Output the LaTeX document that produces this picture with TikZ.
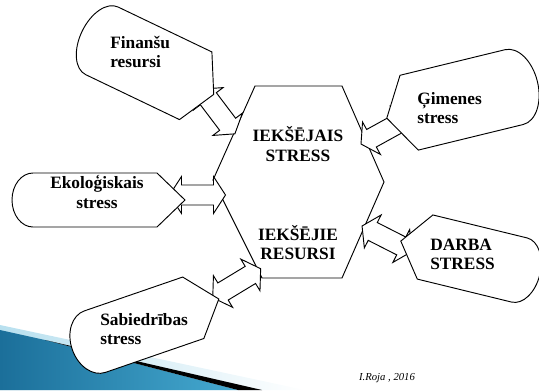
\documentclass[tikz,border=0pt]{standalone}
\usepackage{fontspec}
\setmainfont{Liberation Serif}
\usetikzlibrary{calc}
\definecolor{swooshdark}{HTML}{1B6F9A}
\definecolor{swooshmid}{HTML}{45A9D0}
\definecolor{swooshlight}{HTML}{B8E0EF}
\tikzset{
  callout/.style={draw=black, fill=white, line width=0.7pt},
  arr/.style={draw=black, fill=white, line width=0.7pt},
  hexa/.style={draw=black, fill=white, line width=0.7pt},
  lbl/.style={font=\fontsize{13}{14.5}\selectfont\bfseries, inner sep=0pt},
}
% display-shaped bubble: cx, cy, rotation, half straight, half height, point, bulge
\newcommand{\dispshape}[7]{%
  \begin{scope}[shift={(#1,#2)}, rotate=#3]
    \draw[callout] (-#4,#5) -- (#4,#5) -- ({#4+#6},0) -- (#4,-#5) -- (-#4,-#5)
      arc[start angle=270, end angle=90, x radius=#7, y radius=#5] -- cycle;
  \end{scope}}
% left-right block arrow: cx, cy, rotation
\newcommand{\dblarrow}[3]{%
  \begin{scope}[shift={(#1,#2)}, rotate=#3]
    \draw[arr] (-28,0) -- (-16,18.5) -- (-16,10) -- (16,10) -- (16,18.5) -- (28,0)
      -- (16,-18.5) -- (16,-10) -- (-16,-10) -- (-16,-18.5) -- cycle;
  \end{scope}}

\begin{document}
\begin{tikzpicture}[x=0.75pt, y=-0.75pt]
  \useasboundingbox (0,0) rectangle (539,390);
  % slide decoration, bottom left
  \shade[left color=swooshlight, right color=white] (0,325) -- (305,390) -- (0,390) -- cycle;
  \shade[left color=swooshdark, right color=swooshmid] (0,330) -- (45,340) -- (238,390) -- (0,390) -- cycle;
  \fill[black] (45,340) -- (262,390) -- (238,390) -- cycle;
  % centre hexagon
  \draw[hexa] (255,86) -- (342,86) -- (384,182) -- (342,278) -- (262,278) -- (213,180) -- cycle;
  % block arrows
  \dblarrow{218}{111.5}{-52.9}
  \dblarrow{197.5}{195}{0}
  \dblarrow{385.5}{130.5}{28.9}
  \dblarrow{387}{238.7}{-27}
  \dblarrow{236.7}{283.2}{31.2}
  % bubbles
  \dispshape{148.8}{63.3}{-25.6}{52}{37.5}{20}{22}
  \dispshape{95}{200}{0}{62}{27}{28}{21}
  \dispshape{461.6}{99.9}{-166.3}{54}{38.5}{23}{24}
  \dispshape{472.2}{258.5}{-193.7}{48.5}{33}{25}{21}
  \dispshape{144.1}{324.7}{19}{52}{32.5}{27}{24}
  % texts
  \node[lbl, align=center] (istr) at (298,144) {IEKŠĒJAIS\\STRESS};
  \node[lbl, align=center] (ires) at (298,242.5) {IEKŠĒJIE\\RESURSI};
  \node[lbl, align=left, anchor=west] (fin) at (110,52) {Finanšu\\resursi};
  \node[lbl, align=center] (eko) at (97,192) {Ekoloģiskais\\stress};
  \node[lbl, align=left, anchor=west] (gim) at (417,108) {Ģimenes\\stress};
  \node[lbl, align=left, anchor=west] (darba) at (430,254.5) {DARBA\\STRESS};
  \node[lbl, align=left, anchor=west] (sab) at (100,329) {Sabiedrības\\stress};
  \node[font=\fontsize{8}{9}\selectfont\itshape, inner sep=0pt] (auth) at (387,378) {I.Roja , 2016};
\end{tikzpicture}
\end{document}
